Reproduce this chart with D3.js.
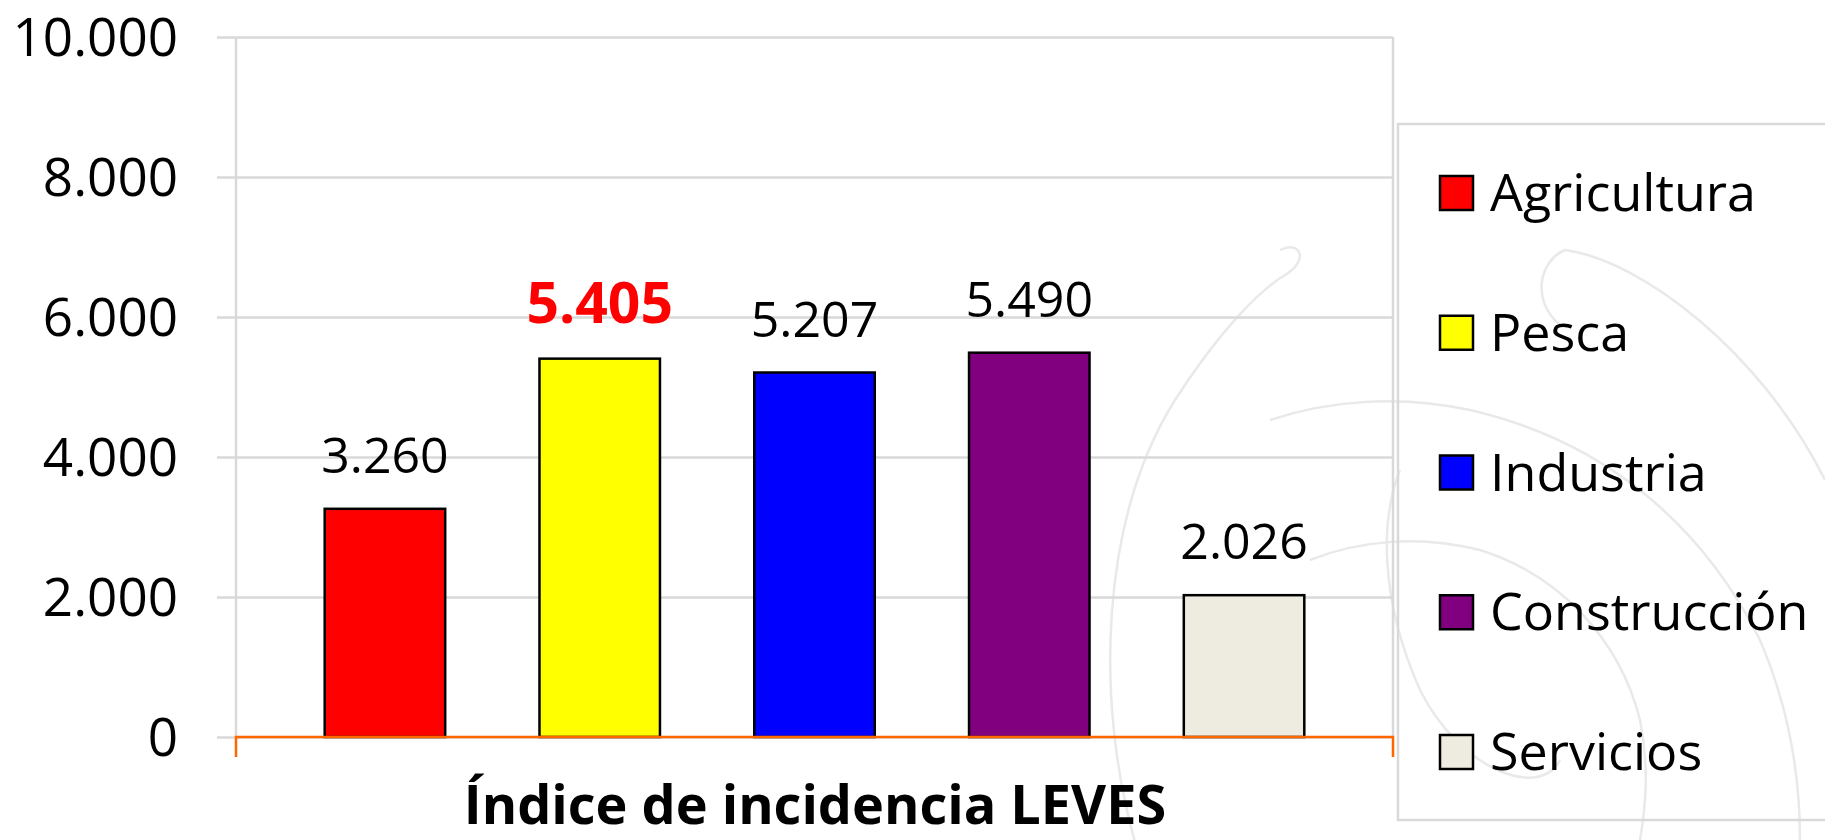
<!DOCTYPE html>
<html>
<head>
<meta charset="utf-8">
<script src="https://cdn.jsdelivr.net/npm/d3@7"></script>
<style>
  html, body { margin: 0; padding: 0; background: #ffffff; }
  svg { display: block; }
  text { font-family: "Comic Sans MS", "Open Sans", sans-serif; }
</style>
</head>
<body>
<svg id="chart" width="1825" height="840"></svg>
<script>
// ---- data ----
const categories = ["Agricultura", "Pesca", "Industria", "Construcción", "Servicios"];
const values = [3260, 5405, 5207, 5490, 2026];
const valueLabels = ["3.260", "5.405", "5.207", "5.490", "2.026"];
const colors = ["#FF0000", "#FFFF00", "#0000FF", "#800080", "#EEECE1"];
const highlighted = ["Pesca"];
const yTicks = [0, 2000, 4000, 6000, 8000, 10000];
const yTickLabels = ["0", "2.000", "4.000", "6.000", "8.000", "10.000"];
const xTitle = "Índice de incidencia LEVES";

// ---- layout ----
const W = 1825, H = 840;
const plot = { left: 236, right: 1393, top: 37, bottom: 737 };

const svg = d3.select("#chart");

// faint decorative watermark arcs
const wm = svg.append("g").attr("fill", "none").attr("stroke", "#e9e9e9").attr("stroke-width", 2.5);
const wmPaths = [
  "M1135,842 C1095,700 1100,520 1175,400 C1220,330 1260,290 1285,275 C1310,260 1300,240 1280,250",
  "M1565,250 C1640,260 1760,350 1825,480",
  "M1565,250 C1540,260 1530,300 1560,325",
  "M1270,420 C1330,400 1400,395 1470,410 C1600,440 1700,520 1760,640 C1790,710 1800,780 1800,840",
  "M1310,560 C1360,540 1420,535 1480,550 C1560,575 1620,640 1640,720 C1650,770 1645,810 1640,840",
  "M1400,470 C1380,520 1380,600 1420,690 C1460,770 1540,800 1560,760"
];
wm.selectAll("path").data(wmPaths).join("path").attr("d", d => d);

const y = d3.scaleLinear().domain([0, 10000]).range([plot.bottom, plot.top]);
const x = d3.scaleBand().domain(categories).range([plot.left, plot.right])
  .paddingInner(0.439).paddingOuter(0.413);

// gridlines (with outside tick stubs)
const yAxis = d3.axisLeft(y).tickValues(yTicks)
  .tickSize(-(plot.right - plot.left) - 19).tickFormat((d, i) => yTickLabels[i]).tickPadding(0);
const gy = svg.append("g").attr("transform", `translate(${plot.right},0)`).call(yAxis);
gy.select(".domain").remove();
gy.selectAll(".tick line").attr("stroke", "#d9d9d9").attr("stroke-width", 2.5)
  .attr("x1", -(plot.right - plot.left) - 19).attr("x2", 0);
gy.selectAll(".tick text")
  .attr("x", -(plot.right - 178))
  .attr("dy", "0.35em")
  .attr("fill", "#000").attr("font-size", 53).attr("text-anchor", "end");

// plot area side borders
svg.append("line").attr("x1", plot.left).attr("x2", plot.left).attr("y1", plot.top).attr("y2", plot.bottom)
  .attr("stroke", "#d9d9d9").attr("stroke-width", 2.5);
svg.append("line").attr("x1", plot.right).attr("x2", plot.right).attr("y1", plot.top).attr("y2", plot.bottom)
  .attr("stroke", "#d9d9d9").attr("stroke-width", 2.5);

// bars
svg.append("g").selectAll("rect").data(categories).join("rect")
  .attr("x", d => x(d))
  .attr("y", (d, i) => y(values[i]))
  .attr("width", x.bandwidth())
  .attr("height", (d, i) => y(0) - y(values[i]))
  .attr("fill", (d, i) => colors[i])
  .attr("stroke", "#000").attr("stroke-width", 2.5);

// x axis (orange) with end ticks
svg.append("path")
  .attr("d", `M${plot.left},${plot.bottom + 20}V${plot.bottom}H${plot.right}V${plot.bottom + 20}`)
  .attr("fill", "none").attr("stroke", "#FF6600").attr("stroke-width", 2.5);

// value labels
svg.append("g").selectAll("text").data(categories).join("text")
  .attr("x", d => x(d) + x.bandwidth() / 2)
  .attr("y", (d, i) => y(values[i]) - 36)
  .attr("text-anchor", "middle")
  .attr("font-size", d => highlighted.includes(d) ? 57 : 50)
  .attr("font-weight", d => highlighted.includes(d) ? "bold" : "normal")
  .attr("fill", d => highlighted.includes(d) ? "#FF0000" : "#000")
  .text((d, i) => valueLabels[i]);

// x title
svg.append("text")
  .attr("x", 815).attr("y", 824)
  .attr("text-anchor", "middle")
  .attr("font-size", 54).attr("font-weight", "bold").attr("fill", "#000")
  .text(xTitle);

// legend
const lg = svg.append("g");
lg.append("rect").attr("x", 1398).attr("y", 124).attr("width", 460).attr("height", 696)
  .attr("fill", "none").attr("stroke", "#d9d9d9").attr("stroke-width", 2.5);
const legendY = d3.scalePoint().domain(categories).range([193, 752]);
const items = lg.selectAll("g.item").data(categories).join("g").attr("class", "item")
  .attr("transform", d => `translate(0,${legendY(d)})`);
items.append("rect").attr("x", 1440).attr("y", -17).attr("width", 33).attr("height", 34)
  .attr("fill", (d, i) => colors[i]).attr("stroke", "#000").attr("stroke-width", 2.5);
items.append("text").attr("x", 1490).attr("y", 0).attr("dy", "0.35em")
  .attr("font-size", 52).attr("fill", "#000").text(d => d);
</script>
</body>
</html>
